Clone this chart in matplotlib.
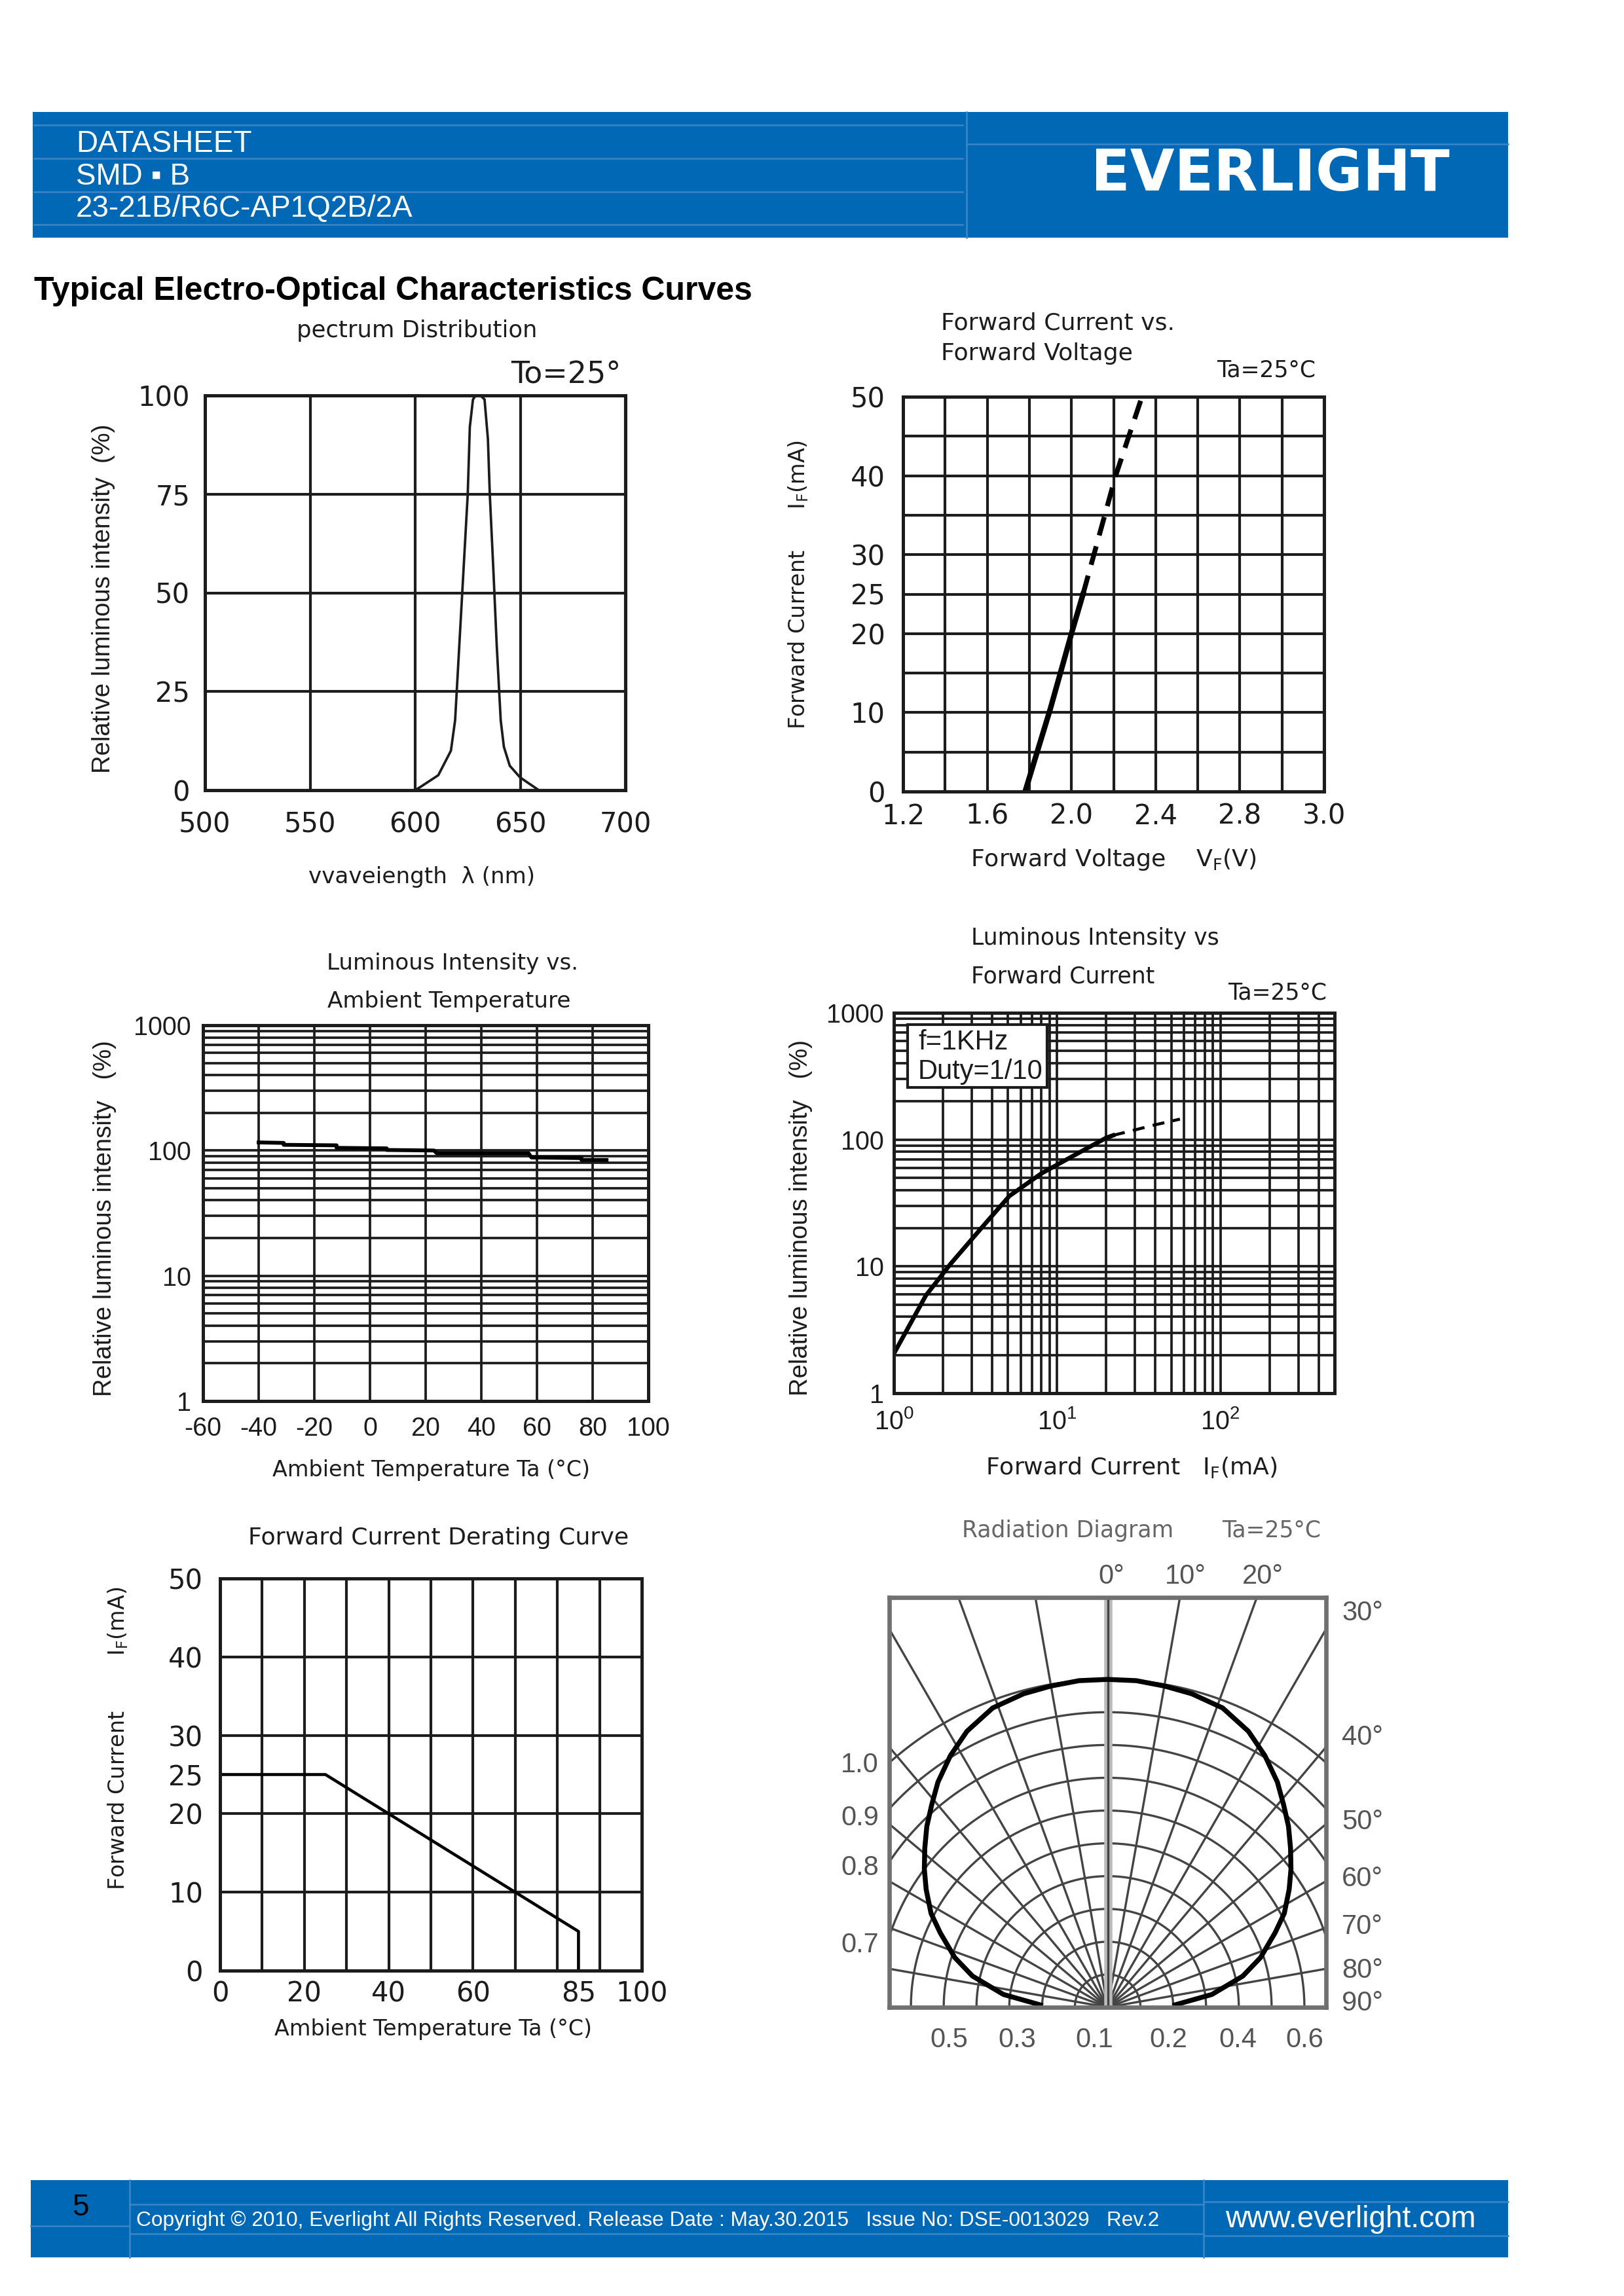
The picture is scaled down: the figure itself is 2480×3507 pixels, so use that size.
import numpy as np
import matplotlib
matplotlib.use("Agg")
import matplotlib.pyplot as plt
from matplotlib import font_manager
from matplotlib.patches import Rectangle
from matplotlib.lines import Line2D
from matplotlib.ticker import LogLocator, NullFormatter, FixedLocator

W, H = 2480, 3507
BLUE = "#0068b5"
LINE_BLUE = "#3c86c6"
INK = "#1c1c1c"

installed = {f.name for f in font_manager.fontManager.ttflist}
HAS_NARROW = "Liberation Sans Narrow" in installed
NARROW = "Liberation Sans Narrow" if HAS_NARROW else "Liberation Sans"
ARIAL = ["Liberation Sans", "DejaVu Sans"]
ROUND = "DejaVu Sans"
YLAB_SIZE = 10.5 if HAS_NARROW else 9.2

# ---- spectrum distribution
spec_wl = [600, 603, 611, 617, 619, 621, 623, 625, 626, 627.5, 629.5, 631, 633,
           634.6, 635.5, 637.2, 638.8, 640.7, 642.2, 645, 649.8, 653.6, 658.3]
spec_rel = [0, 1, 3.8, 10, 17.7, 36.7, 55.8, 74.9, 92, 99, 100.5, 100, 99,
            89, 75, 55.8, 36.7, 17.7, 11, 6.2, 3.3, 1.9, 0.2]
spec_xticks = [500, 550, 600, 650, 700]
spec_yticks = [0, 25, 50, 75, 100]

# ---- forward current vs forward voltage
vf_solid = [1.78, 1.90, 2.00, 2.055]
if_solid = [0, 10.5, 20, 25]
vf_dash = [2.055, 2.21, 2.335]
if_dash = [25, 40, 50]
vf_ticks = [1.2, 1.6, 2.0, 2.4, 2.8, 3.2]
vf_tick_labels = ["1.2", "1.6", "2.0", "2.4", "2.8", "3.0"]
vf_grid = [1.4, 1.8, 2.2, 2.6, 3.0]
if_ticks = [0, 10, 20, 25, 30, 40, 50]
if_grid = [5, 15, 35, 45]

# ---- luminous intensity vs ambient temperature
ta_temp = [-40, -31, -31, -12, -12, 6, 6, 23, 24, 57, 58, 76, 76, 85]
ta_lum = [116, 115, 111, 110, 105, 104, 101, 100, 95, 95, 88, 87, 84, 84]
ta_xticks = [-60, -40, -20, 0, 20, 40, 60, 80, 100]
ta_xlabels = ["-60", "-40", "-20", "0", "20", "40", "60", "80", "100"]
log_yticks = [1, 10, 100, 1000]
log_ylabels = ["1", "10", "100", "1000"]

# ---- luminous intensity vs forward current
lf_i_solid = [1.0, 1.57, 2.23, 3.6, 5.1, 8.0, 12.3, 19.9, 22]
lf_l_solid = [2.05, 5.89, 10.5, 21.5, 35.9, 54, 73.4, 103, 108]
lf_i_dash = [22, 29, 40, 56.5]
lf_l_dash = [108, 118, 131, 145]
lf_xticks = [1, 10, 100]
lf_xlabels = [r"$\mathregular{10^{0}}$", r"$\mathregular{10^{1}}$", r"$\mathregular{10^{2}}$"]

# ---- derating curve
dr_temp = [0, 25, 85, 85]
dr_curr = [25, 25, 5, 0]
dr_xticks = [0, 20, 40, 60, 85, 100]
dr_xgrid = [10, 20, 30, 40, 50, 60, 70, 80, 90]
dr_yticks = [0, 10, 20, 25, 30, 40, 50]
dr_ygrid = [10, 20, 30, 40]

# ---- radiation diagram
rad_theta = [0, 5, 10, 15, 21, 27, 32, 37, 41, 45, 49, 53, 57, 62, 66, 72, 77, 83, 88]
rad_r = [1.0, 1.0, 0.995, 0.99, 0.978, 0.945, 0.905, 0.86, 0.818, 0.78, 0.739,
         0.70, 0.66, 0.61, 0.559, 0.49, 0.423, 0.32, 0.205]
rad_rings = [0.1, 0.2, 0.3, 0.4, 0.5, 0.6, 0.7, 0.8, 0.9, 1.0]
rad_spokes = [-90, -80, -70, -60, -50, -40, -30, -20, -10, 10, 20, 30, 40, 50, 60, 70, 80, 90]
rad_top_labels = ["0°", "10°", "20°"]
rad_side_labels = ["30°", "40°", "50°", "60°", "70°", "80°", "90°"]
rad_left_labels = ["1.0", "0.9", "0.8", "0.7"]
rad_bottom_labels = ["0.5", "0.3", "0.1", "0.2", "0.4", "0.6"]

fig = plt.figure(figsize=(W / 300, H / 300), dpi=300)


def add_ax(x0, y0, x1, y1):
    return fig.add_axes([x0 / W, 1 - y1 / H, (x1 - x0) / W, (y1 - y0) / H])


def put(x, y, s, **kw):
    kw.setdefault("family", ROUND)
    kw.setdefault("color", INK)
    kw.setdefault("va", "center")
    return fig.text(x / W, 1 - y / H, s, **kw)


def box(x0, y0, x1, y1, color):
    fig.add_artist(Rectangle((x0 / W, 1 - y1 / H), (x1 - x0) / W, (y1 - y0) / H,
                             transform=fig.transFigure, facecolor=color, edgecolor="none"))


def hline(x0, x1, y, color=LINE_BLUE, lw=0.6):
    fig.add_artist(Line2D([x0 / W, x1 / W], [1 - y / H, 1 - y / H],
                          transform=fig.transFigure, color=color, lw=lw))


def vline(x, y0, y1, color=LINE_BLUE, lw=0.6):
    fig.add_artist(Line2D([x / W, x / W], [1 - y0 / H, 1 - y1 / H],
                          transform=fig.transFigure, color=color, lw=lw))


def style(ax, tick_font, tick_size, padx, pady):
    for s in ax.spines.values():
        s.set_linewidth(1.2)
        s.set_color(INK)
    ax.tick_params(which="both", length=0, labelsize=tick_size,
                   labelfontfamily=tick_font, labelcolor=INK)
    ax.tick_params(axis="x", pad=padx)
    ax.tick_params(axis="y", pad=pady)


# ---------------- header
box(50, 171, 2303, 363, BLUE)
for y in (191, 242, 293, 343):
    hline(52, 1470, y)
vline(1476, 171, 363)
hline(1476, 2303, 220)
put(116, 232, "DATASHEET", family=ARIAL, size=11, color="white", va="baseline")
put(116, 282, "SMD ▪ B", family=ARIAL, size=11, color="white", va="baseline")
put(116, 331, "23-21B/R6C-AP1Q2B/2A", family=ARIAL, size=11, color="white", va="baseline")
put(1940, 267, "EVERLIGHT", family="DejaVu Sans", weight="heavy", size=21,
    color="white", ha="center")

put(52, 445, "Typical Electro-Optical Characteristics Curves", family=ARIAL,
    weight="bold", size=12, color="black")

# ---------------- spectrum distribution
ax1 = add_ax(313, 604, 955, 1207)
ax1.plot(spec_wl, spec_rel, color=INK, lw=0.9)
ax1.set_xlim(500, 700)
ax1.set_ylim(0, 100)
ax1.set_xticks(spec_xticks)
ax1.set_yticks(spec_yticks)
ax1.grid(True, color=INK, lw=1.0)
style(ax1, ROUND, 10, 7.5, 5.5)
put(637, 505, "pectrum Distribution", size=8.5, ha="center")
put(780, 573, "To=25°", size=11, ha="left")
put(158, 914, "Relative luminous intensity  (%)", rotation=90, family=NARROW,
    size=YLAB_SIZE, ha="center")
put(644, 1340, "vvaveiength  λ (nm)", size=8.2, ha="center")

# ---------------- forward current vs forward voltage
ax2 = add_ax(1379, 606, 2022, 1209)
ax2.plot(vf_solid, if_solid, color="black", lw=2.0)
ax2.plot(vf_dash, if_dash, color="black", lw=1.8, ls=(0, (3.9, 2.3)))
ax2.set_xlim(1.2, 3.2)
ax2.set_ylim(0, 50)
ax2.set_xticks(vf_ticks, vf_tick_labels)
ax2.xaxis.set_minor_locator(FixedLocator(vf_grid))
ax2.set_yticks(if_ticks)
ax2.yaxis.set_minor_locator(FixedLocator(if_grid))
ax2.grid(True, which="both", color=INK, lw=1.0)
style(ax2, ROUND, 10, 4.0, 6.5)
put(1437, 494, "Forward Current vs.", size=8.7, ha="left")
put(1437, 540, "Forward Voltage", size=8.7, ha="left")
put(1858, 566, "Ta=25°C", size=8.3, ha="left")
put(1219, 893, "Forward Current      I$_\\mathregular{F}$(mA)", rotation=90, size=8,
    ha="center")
put(1700, 1313, "Forward Voltage    V$_\\mathregular{F}$(V)", size=8.7, ha="center")

# ---------------- luminous intensity vs ambient temperature
ax3 = add_ax(310, 1566, 990, 2140)
ax3.plot(ta_temp, ta_lum, color="black", lw=1.4)
ax3.set_yscale("log")
ax3.set_xlim(-60, 100)
ax3.set_ylim(1, 1000)
ax3.set_xticks(ta_xticks, ta_xlabels)
ax3.set_yticks(log_yticks, log_ylabels)
ax3.yaxis.set_minor_locator(LogLocator(base=10, subs=range(2, 10)))
ax3.yaxis.set_minor_formatter(NullFormatter())
ax3.grid(True, which="both", color=INK, lw=0.9)
style(ax3, NARROW, 9.5, 5.5, 4.3)
put(691, 1472, "Luminous Intensity vs.", size=8.2, ha="center")
put(686, 1529, "Ambient Temperature", size=8.2, ha="center")
put(160, 1861, "Relative luminous intensity   (%)", rotation=90, family=NARROW,
    size=YLAB_SIZE, ha="center")
put(658, 2246, "Ambient Temperature Ta (°C)", size=8, ha="center")

# ---------------- luminous intensity vs forward current
ax4 = add_ax(1365, 1547, 2038, 2128)
ax4.plot(lf_i_solid, lf_l_solid, color="black", lw=1.6)
ax4.plot(lf_i_dash, lf_l_dash, color="black", lw=1.1, ls=(0, (4, 2.8)))
ax4.set_xscale("log")
ax4.set_yscale("log")
ax4.set_xlim(1, 500)
ax4.set_ylim(1, 1000)
ax4.set_xticks(lf_xticks, lf_xlabels)
ax4.set_yticks(log_yticks, log_ylabels)
for axis in (ax4.xaxis, ax4.yaxis):
    axis.set_minor_locator(LogLocator(base=10, subs=range(2, 10)))
    axis.set_minor_formatter(NullFormatter())
ax4.grid(True, which="both", color=INK, lw=0.9)
style(ax4, NARROW, 9.5, 5.8, 3.6)
ax4.add_patch(Rectangle((0.031, 0.804), 0.317, 0.165, transform=ax4.transAxes,
                        facecolor="white", edgecolor=INK, lw=1.0, zorder=3))
ax4.text(0.055, 0.923, "f=1KHz", transform=ax4.transAxes, family=NARROW, size=10,
         va="center", color=INK, zorder=4)
ax4.text(0.055, 0.845, "Duty=1/10", transform=ax4.transAxes, family=NARROW, size=10,
         va="center", color=INK, zorder=4)
put(1483, 1433, "Luminous Intensity vs", size=8.3, ha="left")
put(1483, 1491, "Forward Current", size=8.3, ha="left")
put(1875, 1516, "Ta=25°C", size=8.3, ha="left")
put(1223, 1860, "Relative luminous intensity   (%)", rotation=90, family=NARROW,
    size=YLAB_SIZE, ha="center")
put(1728, 2241, "Forward Current   I$_\\mathregular{F}$(mA)", size=8.7, ha="center")

# ---------------- derating curve
ax5 = add_ax(336, 2411, 980, 3010)
ax5.plot(dr_temp, dr_curr, color="black", lw=1.1)
ax5.set_xlim(0, 100)
ax5.set_ylim(0, 50)
ax5.set_xticks(dr_xticks)
ax5.set_yticks(dr_yticks)
ax5.xaxis.remove_overlapping_locs = False
ax5.yaxis.remove_overlapping_locs = False
ax5.xaxis.set_minor_locator(FixedLocator(dr_xgrid))
ax5.yaxis.set_minor_locator(FixedLocator(dr_ygrid))
ax5.grid(True, which="minor", color=INK, lw=1.0)
style(ax5, ROUND, 10, 3.6, 6.2)
put(670, 2349, "Forward Current Derating Curve", size=8.7, ha="center")
put(180, 2655, "Forward Current        I$_\\mathregular{F}$(mA)", rotation=90, size=8,
    ha="center")
put(661, 3099, "Ambient Temperature Ta (°C)", size=8, ha="center")

# ---------------- radiation diagram
ax6 = add_ax(1358, 2440, 2025, 3066)
ax6.set_xlim(-0.666, 0.666)
ax6.set_ylim(0, 1.25)
ax6.set_xticks([])
ax6.set_yticks([])
for s in ax6.spines.values():
    s.set_color("#707070")
    s.set_linewidth(1.6)
arc = np.radians(np.linspace(-90, 90, 181))
for r in rad_rings:
    ax6.plot(r * np.sin(arc), r * np.cos(arc), color="#444444", lw=0.8)
for d in rad_spokes:
    t = np.radians(d)
    ax6.plot([0, 2 * np.sin(t)], [0, 2 * np.cos(t)], color="#444444", lw=0.8)
ax6.axvline(0, color="#bbbbbb", lw=3.0)
ax6.axvline(0, color="#444444", lw=0.8)
th = np.radians(rad_theta)
rr = np.array(rad_r)
px = np.concatenate([-(rr * np.sin(th))[::-1], rr * np.sin(th)])
py = np.concatenate([(rr * np.cos(th))[::-1], rr * np.cos(th)])
ax6.plot(px, py, color="black", lw=1.8)

GREY = "#555555"
put(1631, 2338, "Radiation Diagram", size=8.3, ha="center", color="#666666")
put(1942, 2338, "Ta=25°C", size=8.3, ha="center", color="#666666")
for s, x in zip(rad_top_labels, (1697, 1810, 1928)):
    put(x, 2408, s, family=NARROW, size=10, ha="center", color=GREY)
for s, y in zip(rad_side_labels, (2464, 2654, 2783, 2870, 2943, 3010, 3060)):
    put(2049, y, s, family=NARROW, size=10, ha="left", color=GREY)
for s, y in zip(rad_left_labels, (2696, 2777, 2853, 2971)):
    put(1342, y, s, family=NARROW, size=10, ha="right", color=GREY)
for s, x in zip(rad_bottom_labels, (1449, 1553, 1671, 1784, 1890, 1992)):
    put(x, 3116, s, family=NARROW, size=10, ha="center", color=GREY)

# ---------------- footer
box(47, 3330, 2303, 3448, BLUE)
vline(198, 3330, 3448)
vline(1838, 3330, 3448)
hline(47, 198, 3400)
hline(198, 1838, 3367)
hline(198, 1838, 3412)
hline(1838, 2303, 3363)
hline(1838, 2303, 3415)
put(123, 3372, "5", family=ARIAL, size=11, color="black", ha="center")
put(208, 3392, "Copyright © 2010, Everlight All Rights Reserved. Release Date : May.30.2015"
    "   Issue No: DSE-0013029   Rev.2", family=ARIAL, size=7.6, color="white", ha="left")
put(2062, 3390, "www.everlight.com", family=ARIAL, size=11, color="white", ha="center")

fig.savefig("out.png", dpi=300)
